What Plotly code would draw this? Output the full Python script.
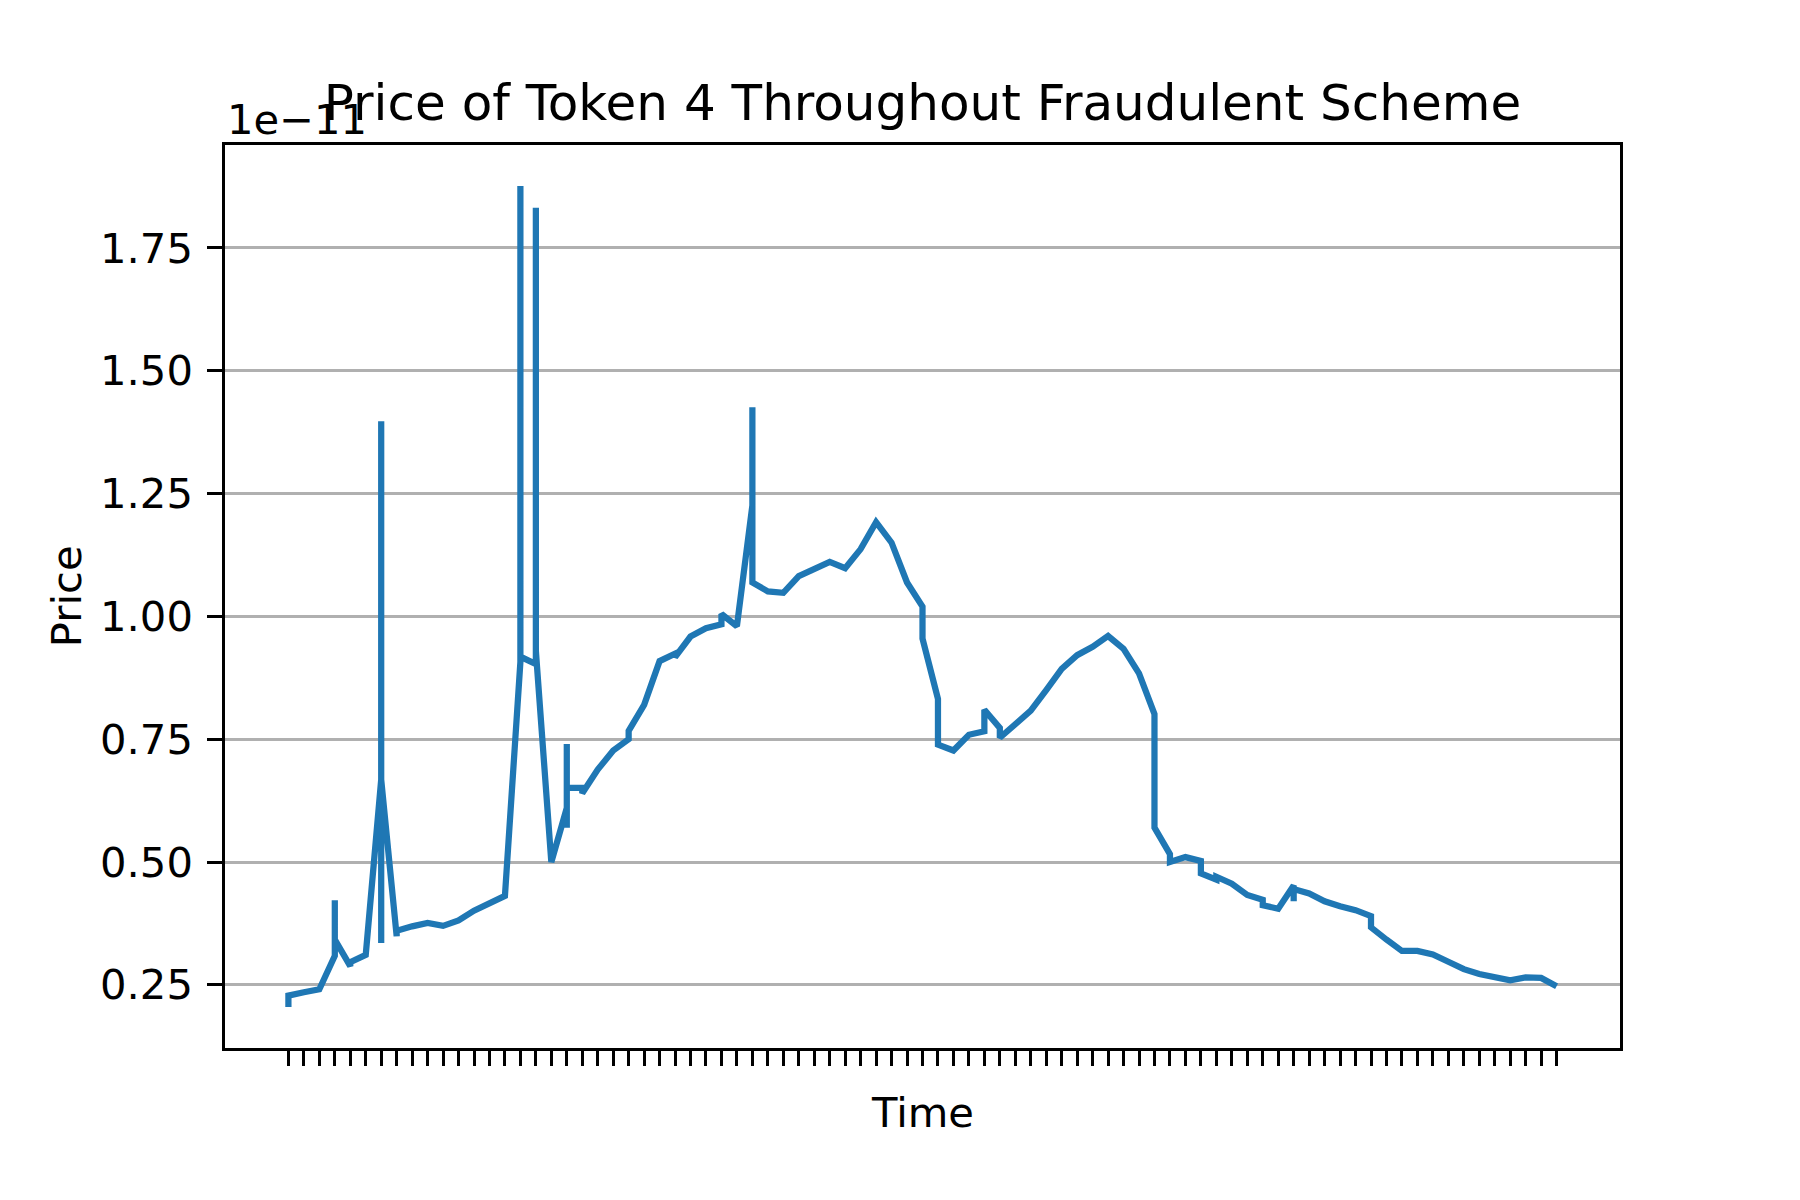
import plotly.graph_objects as go

# Time slot index (categorical positions on the x axis; repeated slots give vertical moves)
time_idx = [
    0, 0, 1, 2, 3, 3, 3, 4, 4, 5,
    6, 6, 6, 6, 7, 7, 8, 9, 10, 11, 12, 13, 14,
    15, 15, 15, 16, 16, 16, 17,
    18, 18, 18, 18, 19, 19, 20, 21, 22, 22, 23, 24, 25, 25,
    26, 27, 28, 28, 29, 30, 30, 30, 31, 32, 33, 34, 35, 36, 37, 38, 39, 40,
    41, 41, 42, 42, 43, 44, 45, 45, 46, 46, 47, 48, 49, 50, 51, 52, 53, 54, 55,
    56, 56, 57, 57, 58, 59, 59, 60, 60, 61, 62, 63, 63, 64, 65, 65, 65,
    66, 67, 68, 69, 70, 70, 71, 72, 73, 74, 75, 76, 77, 78, 79, 80, 81, 82,
]
# Price in units of 1e-11
price = [
    0.205, 0.228, 0.235, 0.241, 0.309, 0.422, 0.342, 0.288, 0.296, 0.311,
    0.668, 1.397, 0.335, 0.668, 0.349, 0.360, 0.369, 0.376, 0.370, 0.381, 0.401, 0.415, 0.431,
    0.907, 1.876, 0.918, 0.903, 1.832, 0.930, 0.500,
    0.610, 0.740, 0.570, 0.651, 0.651, 0.640, 0.688, 0.727, 0.750, 0.767, 0.820, 0.909, 0.924, 0.917,
    0.959, 0.976, 0.984, 1.005, 0.980, 1.226, 1.426, 1.069, 1.051, 1.048, 1.082, 1.096, 1.111, 1.098, 1.137, 1.192, 1.150, 1.069,
    1.020, 0.955, 0.832, 0.739, 0.727, 0.759, 0.766, 0.810, 0.773, 0.753, 0.779, 0.808, 0.850, 0.893, 0.921, 0.938, 0.960, 0.934, 0.884,
    0.801, 0.570, 0.516, 0.500, 0.510, 0.502, 0.477, 0.464, 0.470, 0.456, 0.433, 0.423, 0.412, 0.405, 0.452, 0.420, 0.445,
    0.436, 0.420, 0.410, 0.402, 0.390, 0.367, 0.342, 0.319, 0.319, 0.312, 0.297, 0.282, 0.272, 0.267, 0.259, 0.265, 0.264, 0.247,
]
n_slots = 83
y_ticks = [0.25, 0.50, 0.75, 1.00, 1.25, 1.50, 1.75]

FONT = "DejaVu Sans"
fig = go.Figure()
fig.add_trace(go.Scatter(
    x=time_idx, y=price, mode="lines",
    line=dict(color="#1f77b4", width=6.25),
    hoverinfo="skip", showlegend=False,
))

fig.update_layout(
    width=1800, height=1200,
    margin=dict(l=217, r=188, t=137, b=160),
    paper_bgcolor="white", plot_bgcolor="white",
    font=dict(family=FONT, size=41.7, color="black"),
    title=dict(text="Price of Token 4 Throughout Fraudulent Scheme",
               x=914.5 / 1800, xanchor="center", xref="container",
               y=1 - 94 / 1200, yanchor="middle", yref="container",
               font=dict(family=FONT, size=50, color="black")),
)
fig.update_xaxes(
    range=[-4.1, 86.1],
    tickmode="array", tickvals=list(range(n_slots)), showticklabels=False,
    ticks="outside", ticklen=14.6, tickwidth=3.3, tickcolor="black",
    showline=True, linecolor="black", linewidth=3.3, mirror=True,
    showgrid=False, zeroline=False,
)
fig.update_yaxes(
    range=[0.1214, 1.9596],
    tickmode="array", tickvals=y_ticks, ticktext=[f"{v:.2f}" for v in y_ticks],
    ticks="outside", ticklen=14.6, tickwidth=3.3, tickcolor="black",
    ticklabelstandoff=6,
    showline=True, linecolor="black", linewidth=3.3, mirror=True,
    showgrid=True, gridcolor="#b0b0b0", gridwidth=3.3, zeroline=False,
)
fig.add_annotation(text="Price", textangle=-90, xref="paper", yref="paper",
                   x=-0.1135, y=0.5, xanchor="center", yanchor="middle",
                   showarrow=False, font=dict(family=FONT, size=41.7))
fig.add_annotation(text="Time", xref="paper", yref="paper",
                   x=0.5, y=-0.071, xanchor="center", yanchor="middle",
                   showarrow=False, font=dict(family=FONT, size=41.7))
fig.add_annotation(text="1e\u221211", xref="paper", yref="paper",
                   x=0.0, y=1.0, xanchor="left", yanchor="bottom", yshift=-1,
                   showarrow=False, font=dict(family=FONT, size=41.7))

fig.write_html("out.html")
